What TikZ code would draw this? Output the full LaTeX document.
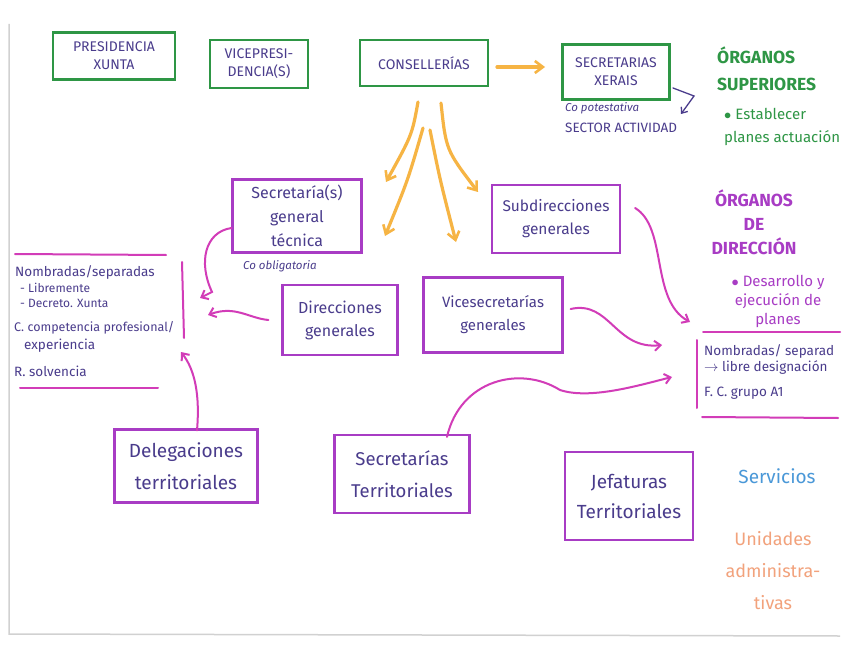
\documentclass[tikz,border=0pt]{standalone}
\usepackage{fontspec}
\setmainfont{Fira Sans}
\usetikzlibrary{arrows.meta}
\definecolor{gbox}{HTML}{2E9645}
\definecolor{pbox}{HTML}{A83CC4}
\definecolor{parr}{HTML}{D23CB8}
\definecolor{ink}{HTML}{4A3C8C}
\definecolor{oarr}{HTML}{F6B444}
\definecolor{sblue}{HTML}{4A98D8}
\definecolor{uorange}{HTML}{F2A27C}
\tikzset{
  gboxst/.style={draw=gbox, line width=2.2pt, text=ink, align=center, font=\fontsize{14}{18}\selectfont, inner sep=2pt},
  pboxst/.style={draw=pbox, line width=2.2pt, text=ink, align=center, inner sep=2pt},
  oarrow/.style={draw=oarr, line width=3.2pt, line cap=round, -{Straight Barb[length=8pt,width=12pt,line width=2.6pt]}},
  parrow/.style={draw=parr, line width=2pt, line cap=round, -{Straight Barb[length=6pt,width=10pt,line width=2pt]}},
  plinest/.style={draw=parr, line width=2pt, line cap=round},
  inktext/.style={text=ink, align=left, inner sep=0pt, anchor=west},
  small/.style={font=\fontsize{13.5}{15}\selectfont},
  tiny/.style={font=\itshape\fontsize{11.5}{13}\selectfont},
}
\begin{document}
\begin{tikzpicture}[x=1pt,y=-1pt]
\useasboundingbox (0,0) rectangle (848,655);
\fill[white] (0,0) rectangle (848,655);
\draw[black!18, line width=1.5pt] (9,24) -- (9,634) -- (840,636);
% green boxes
\node[gboxst, minimum width=122pt, minimum height=47pt] (pres) at (114,56) {PRESIDENCIA\\XUNTA};
\node[gboxst, minimum width=98pt, minimum height=48pt] (vice) at (259,64) {VICEPRESI-\\DENCIA(S)};
\node[gboxst, minimum width=128pt, minimum height=46pt] (cons) at (424,63) {CONSELLERÍAS};
\node[gboxst, minimum width=107pt, minimum height=55pt] (sxer) at (616,72) {SECRETARIAS\\XERAIS};
\node[tiny, text=ink, anchor=west, inner sep=0pt] (copot) at (565,108) {Co potestativa};
\node[small, text=ink, anchor=west, inner sep=0pt] (sector) at (565,128) {SECTOR ACTIVIDAD};
\coordinate (bendA) at (673,88);
\coordinate (bendB) at (694,96);
\coordinate (bendC) at (681,114);
\draw[draw=ink, line width=1.3pt, line cap=round, -{Straight Barb[length=5pt,width=8pt,line width=1.3pt]}] (bendA) -- (bendB) -- (bendC);
% organos superiores
\node[text=gbox, anchor=west, align=left, font=\bfseries\fontsize{17.5}{27}\selectfont, inner sep=0pt] (osup) at (717,69) {ÓRGANOS\\SUPERIORES};
\node[text=gbox, anchor=west, align=left, font=\fontsize{15}{23}\selectfont, inner sep=0pt] (estab) at (724,127) {$\bullet$ Establecer\\planes actuación};
% orange arrows
\coordinate (ca) at (497,67);
\coordinate (cb) at (545,67);
\draw[oarrow] (ca) -- (cb);
\coordinate (o1a) at (418,102); \coordinate (o1b) at (386,182);
\coordinate (o2a) at (423,128); \coordinate (o2b) at (385,236);
\coordinate (o3a) at (430,130); \coordinate (o3b) at (456,242);
\coordinate (o4a) at (441,103); \coordinate (o4b) at (478,192);
\draw[oarrow] (o1a) .. controls (412,135) .. (o1b);
\draw[oarrow] (o2a) .. controls (408,180) .. (o2b);
\draw[oarrow] (o3a) .. controls (440,180) .. (o3b);
\draw[oarrow] (o4a) .. controls (446,150) .. (o4b);
% purple boxes
\node[pboxst, font=\fontsize{16}{24}\selectfont, minimum width=129pt, minimum height=73pt] (sgt) at (297,216) {Secretaría(s)\\general\\técnica};
\node[tiny, text=ink, anchor=west, inner sep=0pt] (coob) at (243,266) {Co obligatoria};
\node[pboxst, font=\fontsize{15.5}{23}\selectfont, minimum width=128pt, minimum height=68pt] (subd) at (556,219) {Subdirecciones\\generales};
\node[pboxst, font=\fontsize{16}{23}\selectfont, minimum width=115pt, minimum height=70pt] (dg) at (340,320) {Direcciones\\generales};
\node[pboxst, font=\fontsize{15}{23}\selectfont, minimum width=139pt, minimum height=75pt] (vsg) at (493,315) {Vicesecretarías\\generales};
\node[pboxst, font=\fontsize{19}{32}\selectfont, minimum width=143pt, minimum height=73pt] (deleg) at (186,466) {Delegaciones\\territoriales};
\node[pboxst, font=\fontsize{18.5}{32}\selectfont, minimum width=135pt, minimum height=78pt] (sect) at (402,474) {Secretarías\\Territoriales};
\node[pboxst, font=\fontsize{19}{30}\selectfont, minimum width=128pt, minimum height=88pt] (jef) at (629,496) {Jefaturas\\Territoriales};
% left panel
\draw[plinest] (15,254) -- (166,255);
\draw[plinest] (182,262) -- (184,338);
\draw[plinest] (20,388) -- (158,388);
\node[inktext, small] (ln1) at (15,272) {Nombradas/separadas};
\node[inktext, font=\fontsize{12}{13}\selectfont] (ln2) at (20,288) {- Libremente};
\node[inktext, font=\fontsize{12}{13}\selectfont] (ln3) at (20,303) {- Decreto. Xunta};
\node[inktext, font=\fontsize{12.5}{14}\selectfont] (ln4) at (14,328) {C. competencia profesional/};
\node[inktext, small] (ln5) at (24,346) {experiencia};
\node[inktext, small] (ln6) at (14,371) {R. solvencia};
\coordinate (lp1) at (200,298);
\coordinate (lp2) at (208,315);
\coordinate (lp3) at (181,352);
\draw[parrow] (sgt.west |- 0,228) .. controls (205,232) and (198,262) .. (212,292) -- (lp1);
\draw[parrow] ([xshift=-13pt]dg.west) .. controls (248,318) and (235,305) .. (lp2);
\draw[parrow] ([xshift=11pt,yshift=-2pt]deleg.north) .. controls (200,395) and (195,370) .. (lp3);
% right panel
\node[text=pbox, align=center, font=\bfseries\fontsize{17.5}{24}\selectfont, inner sep=0pt] (odir) at (754,222) {ÓRGANOS\\DE\\DIRECCIÓN};
\node[text=pbox, align=center, font=\fontsize{15}{19}\selectfont, inner sep=0pt] (desa) at (778,301) {$\bullet$ Desarrollo y\\ejecución de\\planes};
\draw[plinest] (703,332) -- (840,332);
\draw[plinest] (697,340) -- (697,408);
\draw[plinest] (702,417) -- (838,418);
\node[inktext, font=\fontsize{13.5}{15}\selectfont] (rn1) at (704,351) {Nombradas/ separad};
\node[inktext, font=\fontsize{13.5}{15}\selectfont] (rn2) at (704,368) {$\rightarrow$ libre designación};
\node[inktext, font=\fontsize{13.5}{15}\selectfont] (rn3) at (704,393) {F. C. grupo A1};
\coordinate (rp1) at (690,322);
\coordinate (rp2) at (662,345);
\coordinate (rp3) at (672,377);
\draw[parrow] ([xshift=14pt,yshift=11pt]subd.east) .. controls (668,228) and (650,300) .. (rp1);
\draw[parrow] ([xshift=7pt,yshift=6pt]vsg.east) .. controls (610,300) and (615,350) .. (rp2);
\draw[parrow] ([xshift=45pt,yshift=-3pt]sect.north) .. controls (460,380) and (520,365) .. (560,390) .. controls (590,400) and (640,385) .. (rp3);
% other levels
\node[text=sblue, font=\fontsize{19}{22}\selectfont, inner sep=0pt] (serv) at (777,476) {Servicios};
\node[text=uorange, align=center, font=\fontsize{18}{32}\selectfont, inner sep=0pt] (unid) at (773,571) {Unidades\\administra-\\tivas};
\end{tikzpicture}
\end{document}
